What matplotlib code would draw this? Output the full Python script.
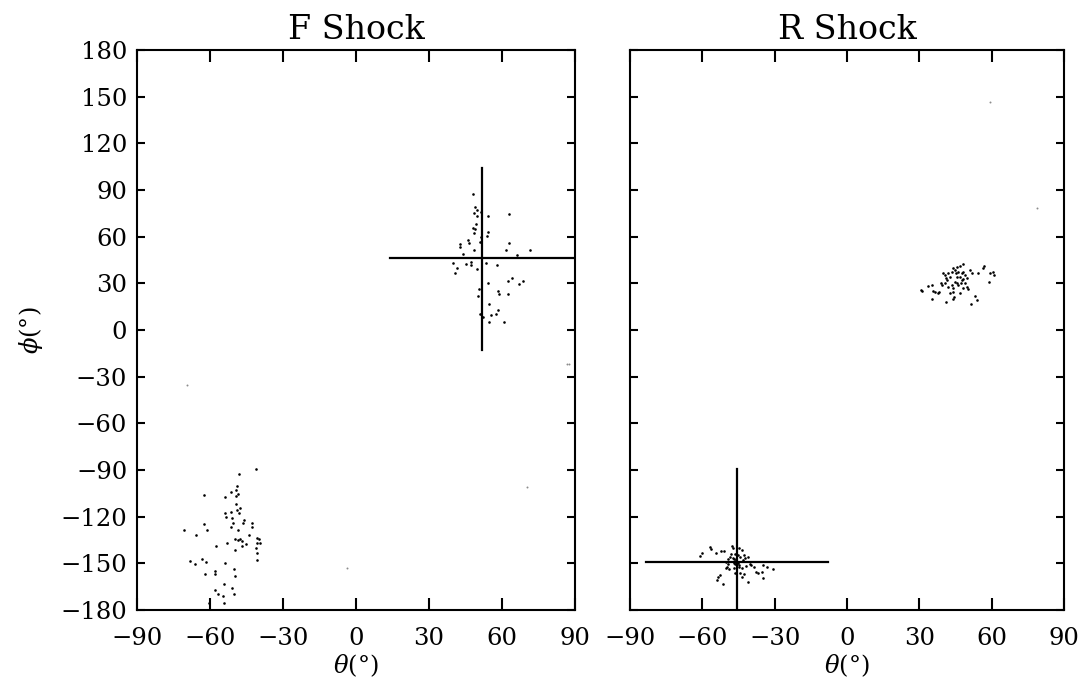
import matplotlib
matplotlib.use("Agg")
import matplotlib.pyplot as plt
import numpy as np

plt.rcParams['font.family'] = ['DejaVu Serif']
plt.rcParams['mathtext.fontset'] = 'dejavuserif'

# F shock: upper cluster (theta, phi) in degrees
f_upper_theta = [48.0, 48.9, 49.6, 48.6, 49.6, 51.3, 54.1, 62.8, 49.3, 48.0, 48.9, 48.5, 54.4,
                 53.7, 51.3, 46.2, 46.6, 51.0, 42.8, 42.8, 62.9, 61.5, 71.4, 48.6, 44.1, 66.3,
                 39.8, 41.4, 40.7, 45.2, 47.1, 47.1, 49.9, 53.4, 57.8, 62.4, 64.0, 68.8, 66.9,
                 54.1, 50.4, 50.0, 58.5, 58.8, 62.6, 54.8, 58.5, 57.4, 55.5, 51.0, 52.1, 54.6, 61.0]
f_upper_phi = [87.2, 79.3, 77.1, 75.0, 73.5, 76.1, 73.1, 74.4, 68.0, 65.4, 64.7, 62.6, 63.0,
               60.2, 59.6, 57.9, 55.7, 56.4, 55.3, 53.6, 55.7, 51.6, 51.4, 51.6, 48.6, 48.2,
               42.9, 39.7, 36.9, 42.4, 43.9, 41.8, 39.0, 43.3, 41.8, 31.5, 33.2, 31.5, 29.8,
               30.2, 26.6, 22.1, 25.3, 23.1, 23.1, 16.9, 13.1, 10.5, 9.4, 10.5, 8.6, 5.1, 5.0]

# F shock: lower cluster
f_lower_theta = [-41.2, -48.1, -62.3, -48.8, -49.3, -51.2, -48.4, -53.8, -49.3, -49.3, -47.7,
                 -48.8, -48.2, -53.8, -51.4, -53.4, -50.8, -46.1, -50.7, -46.6, -42.7, -42.7,
                 -62.5, -70.7, -61.1, -51.5, -48.4, -65.9, -44.1, -49.6, -48.5, -47.8, -53.2,
                 -47.0, -45.2, -46.8, -57.4, -40.8, -40.0, -39.6, -40.6, -41.1, -49.6, -40.7,
                 -40.8, -68.1, -66.3, -63.4, -61.8, -53.7, -50.1, -57.9, -57.9, -62.1, -49.6,
                 -54.2, -51.1, -57.9, -56.8, -54.8, -50.3, -60.5, -54.1]
f_lower_phi = [-89.4, -92.8, -106.1, -100.5, -102.9, -104.1, -105.2, -107.1, -106.4, -112.1,
               -114.6, -115.7, -117.9, -117.5, -117.2, -120.2, -120.7, -122.2, -123.9, -124.3,
               -124.3, -126.5, -125.0, -128.6, -128.6, -126.9, -128.6, -132.0, -131.6, -134.2,
               -135.0, -134.2, -137.0, -135.9, -137.6, -138.9, -138.7, -133.7, -134.6, -136.8,
               -136.8, -140.2, -141.3, -143.4, -147.7, -148.5, -150.3, -147.2, -149.0, -150.0,
               -153.5, -154.8, -156.9, -157.1, -158.0, -163.3, -166.1, -167.2, -169.9, -170.8,
               -169.9, -175.5, -175.3]

# F shock: stray faint points
f_stray_theta = [86.6, 87.4, -69.6, 70.3, -3.7]
f_stray_phi = [-22.0, -21.9, -35.4, -101.0, -153.0]

# R shock: lower cluster
r_lower_theta = [-61.0, -60.3, -56.8, -56.5, -54.3, -52.3, -51.0, -47.7, -47.2, -44.8, -43.7,
                 -48.2, -46.5, -45.1, -42.7, -40.9, -42.3, -49.2, -47.4, -45.8, -45.1, -46.5,
                 -49.9, -49.1, -50.2, -46.9, -43.7, -41.9, -40.2, -38.6, -39.8, -35.0, -33.3,
                 -30.6, -37.7, -36.8, -35.4, -46.5, -44.4, -42.7, -43.7, -52.7, -53.4, -53.8,
                 -51.6, -40.9, -35.0, -48.5, -50.2, -49.2, -46.0, -44.4, -43.3, -45.5, -46.3,
                 -44.9, -47.0, -45.0, -46.8]
r_lower_phi = [-145.3, -143.6, -139.3, -141.0, -143.2, -142.1, -141.9, -138.9, -140.2, -140.4,
               -141.4, -144.2, -144.0, -144.7, -144.7, -145.8, -146.8, -147.2, -146.8, -148.9,
               -150.0, -150.5, -152.2, -153.9, -153.2, -153.2, -153.2, -151.7, -150.5, -152.2,
               -151.3, -151.1, -152.2, -153.9, -155.4, -156.5, -155.4, -156.5, -156.1, -156.9,
               -159.0, -157.5, -159.0, -160.7, -163.3, -162.2, -159.6, -145.8, -149.2, -150.5,
               -147.0, -145.8, -147.9, -149.5, -148.2, -151.0, -149.8, -152.6, -147.5]

# R shock: upper cluster
r_upper_theta = [30.5, 30.9, 33.7, 35.1, 35.5, 36.5, 37.9, 38.3, 35.4, 41.0, 38.9, 39.3, 40.6,
                 42.0, 40.6, 41.0, 42.0, 42.7, 43.4, 44.1, 44.8, 45.2, 45.7, 46.9, 48.0, 45.7,
                 46.9, 47.6, 44.8, 45.5, 46.2, 47.1, 48.9, 49.6, 48.2, 50.3, 48.9, 49.6, 48.2,
                 47.6, 51.0, 51.7, 54.5, 56.3, 56.8, 59.3, 60.4, 61.0, 59.0, 42.7, 43.8, 44.5,
                 44.1, 46.9, 43.4, 44.1, 53.1, 53.8, 51.3, 41.3, 39.6, 46.2, 48.0]
r_upper_phi = [25.7, 25.1, 28.3, 28.9, 25.3, 24.6, 23.6, 24.6, 19.9, 18.0, 30.4, 28.9, 30.0,
               27.9, 35.4, 33.2, 36.5, 34.3, 37.5, 39.7, 38.6, 36.5, 40.3, 41.2, 42.2, 33.9,
               34.3, 32.1, 31.1, 30.0, 28.9, 30.4, 30.0, 27.9, 26.8, 26.2, 35.4, 33.2, 37.5,
               36.5, 38.6, 36.5, 36.9, 39.7, 41.2, 36.5, 37.5, 35.4, 31.1, 24.0, 24.6, 21.4,
               19.7, 23.6, 28.9, 26.8, 21.9, 19.3, 16.5, 32.1, 36.5, 37.5, 32.6]

# R shock: stray faint points
r_stray_theta = [59.3, 78.8]
r_stray_phi = [146.6, 78.4]

# crosshairs: (theta centre, phi centre, theta extent, phi extent)
f_cross = (51.6, 46.3, (14.0, 90.0), (-12.9, 104.0))
r_cross = (-45.8, -148.9, (-83.4, -7.9), (-180.0, -89.4))

xticks = [-90, -60, -30, 0, 30, 60, 90]
yticks = [180, 150, 120, 90, 60, 30, 0, -30, -60, -90, -120, -150, -180]


def draw_panel(ax, clusters, stray, cross, title):
    for th, ph in clusters:
        ax.scatter(th, ph, s=3.5, color='black', linewidths=0, zorder=3)
    ax.scatter(stray[0], stray[1], s=2, color='0.55', linewidths=0, zorder=3)

    tc, pc, trange, prange = cross
    ax.plot(trange, [pc, pc], color='black', lw=1.6, zorder=2)
    ax.plot([tc, tc], prange, color='black', lw=1.6, zorder=2)

    ax.set_xlim(-90, 90)
    ax.set_ylim(-180, 180)
    ax.set_xticks(xticks)
    ax.set_yticks(yticks)
    ax.set_title(title, fontsize=24, pad=8)
    ax.set_xlabel(r'$\theta$(°)', fontsize=17.5, labelpad=2)
    for s in ax.spines.values():
        s.set_linewidth(1.5)
    ax.tick_params(axis='both', direction='in', top=True, right=True, width=1.5,
                   labelsize=17.5)
    ax.tick_params(axis='x', length=8.6, pad=12)
    ax.tick_params(axis='y', length=6, pad=7)


fig = plt.figure(figsize=(10.84, 6.85), dpi=100)
ax1 = fig.add_axes([0.1264, 0.1095, 0.404, 0.8175])
ax2 = fig.add_axes([0.5812, 0.1095, 0.4004, 0.8175])

draw_panel(ax1, [(f_upper_theta, f_upper_phi), (f_lower_theta, f_lower_phi)],
           (f_stray_theta, f_stray_phi), f_cross, 'F Shock')
draw_panel(ax2, [(r_lower_theta, r_lower_phi), (r_upper_theta, r_upper_phi)],
           (r_stray_theta, r_stray_phi), r_cross, 'R Shock')

ax1.set_ylabel(r'$\phi$(°)', fontsize=17.5, labelpad=11)
ax2.tick_params(axis='y', labelleft=False)

fig.savefig('out.png', dpi=100)
